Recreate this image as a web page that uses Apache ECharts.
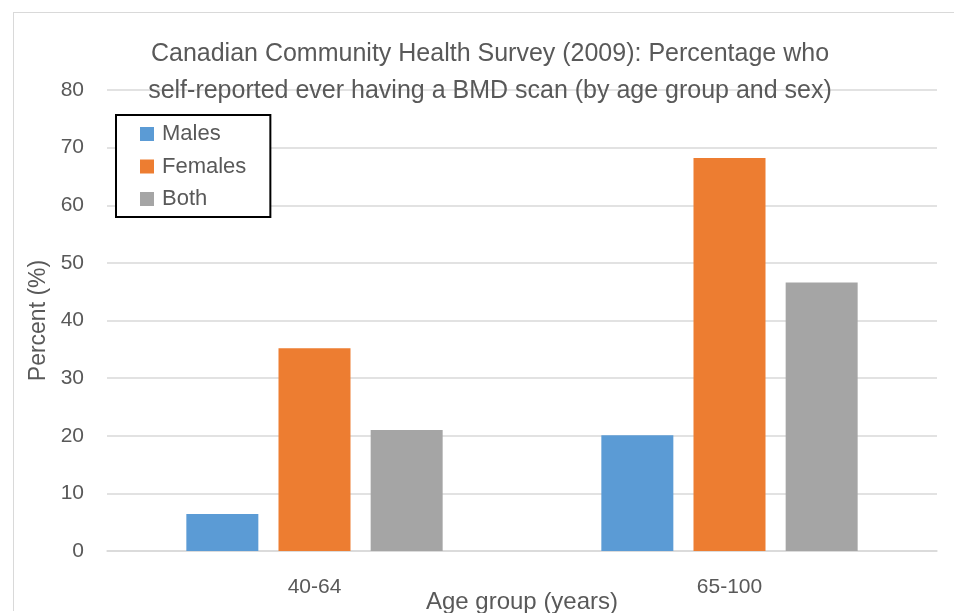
<!DOCTYPE html>
<html>
<head>
<meta charset="utf-8">
<script src="https://cdn.jsdelivr.net/npm/echarts@6/dist/echarts.min.js"></script>
<style>
  html, body { margin: 0; padding: 0; background: #fff; overflow: hidden; }
  #frame { position: absolute; left: 13px; top: 12px; width: 940px; height: 598px; border-left: 1px solid #d9d9d9; border-top: 1px solid #d9d9d9; }
  #chart { position: absolute; left: 0; top: 0; width: 956px; height: 613px; }
</style>
</head>
<body>
<div id="frame"></div>
<div id="chart"></div>
<script>
const chart = echarts.init(document.getElementById('chart'));

const ageGroups = ['40-64', '65-100'];
const males = [6.4, 20.1];
const females = [35.2, 68.2];
const both = [21.0, 46.6];

const textColor = '#595959';
const font = "'Liberation Sans', Arial, sans-serif";

chart.setOption({
  animation: false,
  textStyle: { fontFamily: font },
  title: {
    text: 'Canadian Community Health Survey (2009): Percentage who\nself-reported ever having a BMD scan (by age group and sex)',
    left: 485,
    textAlign: 'center',
    top: 31,
    textStyle: { color: textColor, fontSize: 25, fontWeight: 'normal', lineHeight: 37, fontFamily: font }
  },
  legend: {
    orient: 'vertical',
    left: 116,
    top: 115,
    padding: [8, 24, 7, 24],
    itemGap: 10.5,
    itemWidth: 14,
    itemHeight: 14,
    icon: 'rect',
    backgroundColor: '#fff',
    borderColor: '#000',
    borderWidth: 2,
    borderRadius: 0,
    textStyle: { color: textColor, fontSize: 22, lineHeight: 22, padding: [0, 0, 0, 3], fontFamily: font },
    data: ['Males', 'Females', 'Both']
  },
  grid: { left: 107, right: 19, top: 90, bottom: 62, outerBoundsMode: 'none' },
  xAxis: {
    type: 'category',
    data: ageGroups,
    name: 'Age group (years)',
    nameLocation: 'middle',
    nameGap: 39,
    nameMoveOverlap: false,
    nameTextStyle: { color: textColor, fontSize: 24 },
    axisLine: { lineStyle: { color: '#d9d9d9', width: 1.5 } },
    axisTick: { show: false },
    axisLabel: { color: textColor, fontSize: 21, margin: 26 }
  },
  yAxis: {
    type: 'value',
    min: 0,
    max: 80,
    interval: 10,
    name: 'Percent (%)',
    nameLocation: 'middle',
    nameGap: 57,
    nameMoveOverlap: false,
    nameTextStyle: { color: textColor, fontSize: 23 },
    axisLine: { show: false },
    axisTick: { show: false },
    axisLabel: { color: textColor, fontSize: 21, margin: 23 },
    splitLine: { lineStyle: { color: '#d9d9d9', width: 1.5 } }
  },
  series: [
    { name: 'Males', type: 'bar', data: males, barWidth: 72, barGap: '28%', itemStyle: { color: '#5b9bd5' } },
    { name: 'Females', type: 'bar', data: females, barWidth: 72, barGap: '28%', itemStyle: { color: '#ed7d31' } },
    { name: 'Both', type: 'bar', data: both, barWidth: 72, barGap: '28%', itemStyle: { color: '#a5a5a5' } }
  ]
});
</script>
</body>
</html>
